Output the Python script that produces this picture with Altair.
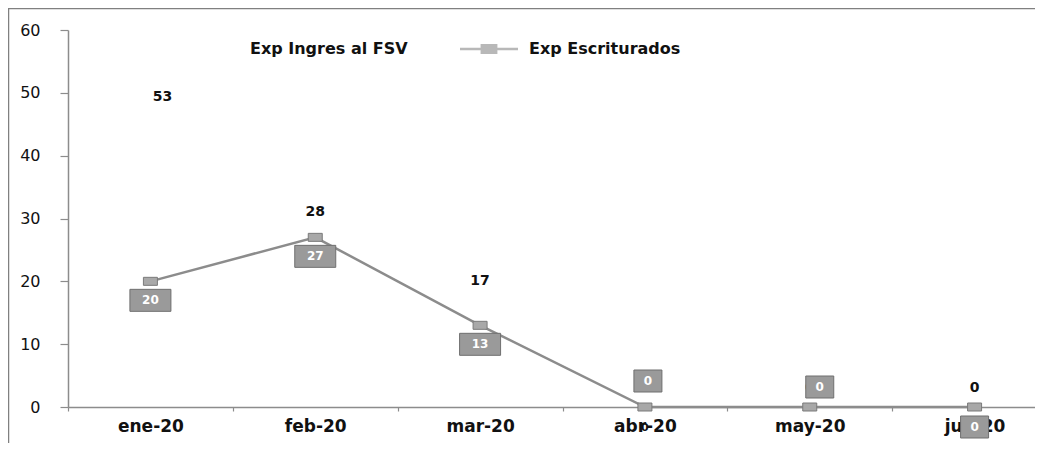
import altair as alt
import pandas as pd

# ---- data ----
meses = ["ene-20", "feb-20", "mar-20", "abr-20", "may-20", "jun-20"]
ingresados = [53, 28, 17, 0, 0, 0]
escriturados = [20, 27, 13, 0, 0, 0]
serie_ingres = "Exp Ingres al FSV"
serie_escrit = "Exp Escriturados"
y_ticks = [0, 10, 20, 30, 40, 50, 60]

df = pd.DataFrame({"mes": meses, "ingres": ingresados, "escrit": escriturados})
df_long = pd.DataFrame({
    "mes": meses * 2,
    "serie": [serie_ingres] * len(meses) + [serie_escrit] * len(meses),
    "valor": ingresados + escriturados,
})

FONT = "DejaVu Sans"
GRAY = "#8c8c8c"

x_enc = alt.X("mes:N", sort=meses, scale=alt.Scale(range=[0, 989], paddingInner=0, paddingOuter=0),
              axis=alt.Axis(title=None, labelAngle=0, tickBand="extent", tickSize=4,
                            labelFontWeight="bold", labelFontSize=17, labelPadding=7,
                            labelColor="#111"))
y_scale = alt.Scale(domain=[0, 60], nice=False)
y_enc_axis = alt.Y("escrit:Q", scale=y_scale,
                   axis=alt.Axis(title=None, values=y_ticks, tickSize=8, labelPadding=20,
                                 labelFontSize=16, labelColor="#111", grid=False))

base = alt.Chart(df)

# frame around whole chart (decorative)
frame = alt.Chart(alt.Data(values=[{"a": 1}])).mark_rect(
    fill=None, stroke="#808080", strokeWidth=1.5
).encode(x=alt.value(-59.5), y=alt.value(-21.5), x2=alt.value(3000), y2=alt.value(3000))

line = base.mark_line(color=GRAY, strokeWidth=2.5).encode(x=x_enc, y=y_enc_axis)

marker_path = "M-1.75,-1L1.75,-1L1.75,1L-1.75,1Z"
markers = base.mark_point(shape=marker_path, size=64, filled=True, fill="#a8a8a8",
                          stroke="#7a7a7a", strokeWidth=1, opacity=1).encode(
    x=alt.X("mes:N", sort=meses), y=alt.Y("escrit:Q", scale=y_scale))

# Ingres labels
ing_above = base.transform_filter(
    alt.FieldOneOfPredicate(field="mes", oneOf=["feb-20", "mar-20", "may-20", "jun-20"])
).mark_text(font=FONT, fontWeight="bold", fontSize=14, color="#111", dy=-19).encode(
    x=alt.X("mes:N", sort=meses), y=alt.Y("ingres:Q", scale=y_scale), text="ingres:Q")
ing_ene = base.transform_filter(alt.datum.mes == "ene-20").mark_text(
    font=FONT, fontWeight="bold", fontSize=14, color="#111", dy=23, dx=12).encode(
    x=alt.X("mes:N", sort=meses), y=alt.Y("ingres:Q", scale=y_scale), text="ingres:Q")
ing_abr = base.transform_filter(alt.datum.mes == "abr-20").mark_text(
    font=FONT, fontWeight="bold", fontSize=11, color="#111", dy=21).encode(
    x=alt.X("mes:N", sort=meses), y=alt.Y("ingres:Q", scale=y_scale), text="ingres:Q")

# Escriturados label boxes
box2 = "M-2.05,-1.1L2.05,-1.1L2.05,1.1L-2.05,1.1Z"
box1 = "M-1.4,-1.1L1.4,-1.1L1.4,1.1L-1.4,1.1Z"


def box_layer(months, path, dy, dx):
    sel = base.transform_filter(alt.FieldOneOfPredicate(field="mes", oneOf=months))
    enc = dict(x=alt.X("mes:N", sort=meses), y=alt.Y("escrit:Q", scale=y_scale))
    b = sel.mark_point(shape=path, size=400, filled=True, fill="#9a9a9a", stroke="#6f6f6f",
                       strokeWidth=1, opacity=1, yOffset=dy, xOffset=dx).encode(**enc)
    t = sel.mark_text(font=FONT, fontWeight="bold", fontSize=12, color="white",
                      dy=dy, dx=dx).encode(text="escrit:Q", **enc)
    return [b, t]


boxes = (box_layer(["ene-20", "feb-20", "mar-20"], box2, 19, 0)
         + box_layer(["jun-20"], box1, 20, 0)
         + box_layer(["abr-20"], box1, -26, 3)
         + box_layer(["may-20"], box1, -20, 10))

# legend carrier layer (marks hidden outside the plot, legend kept)
legend_path = ("M-1,-0.04L-0.29,-0.04L-0.29,-0.17L0.29,-0.17L0.29,-0.04L1,-0.04"
               "L1,0.04L0.29,0.04L0.29,0.17L-0.29,0.17L-0.29,0.04L-1,0.04Z")
leg = alt.Legend(title=None, orient="none", direction="horizontal",
                 legendX=113, legendY=-10, symbolSize=3364,
                 labelOffset=11, columnPadding=52, padding=0,
                 labelFont=FONT, labelFontWeight="bold",
                 labelFontSize=16, labelColor="#111",
                 symbolStrokeWidth=0, labelLimit=300)
legend_layer = alt.Chart(df_long).mark_point(filled=True, clip=True).encode(
    x=alt.X("mes:N", sort=meses),
    y=alt.value(-1000),
    color=alt.Color("serie:N", scale=alt.Scale(domain=[serie_ingres, serie_escrit],
                                               range=["white", "#9a9a9a"]), legend=leg),
    shape=alt.Shape("serie:N", scale=alt.Scale(domain=[serie_ingres, serie_escrit],
                                               range=[legend_path, legend_path]), legend=leg),
)

chart = alt.layer(frame, line, markers, ing_above, ing_ene, ing_abr, *boxes, legend_layer).properties(
    width=967, height=377,
    autosize=alt.AutoSizeParams(type="none"),
    padding={"left": 60, "top": 22, "right": 0, "bottom": 36},
    background="white",
).configure_view(stroke=None).configure_axis(
    domainColor=GRAY, domainWidth=1.5, tickColor=GRAY, tickWidth=1.2, labelFont=FONT
).configure_text(font=FONT)

chart.save("out.html", embed_options={"renderer": "svg", "actions": False})
